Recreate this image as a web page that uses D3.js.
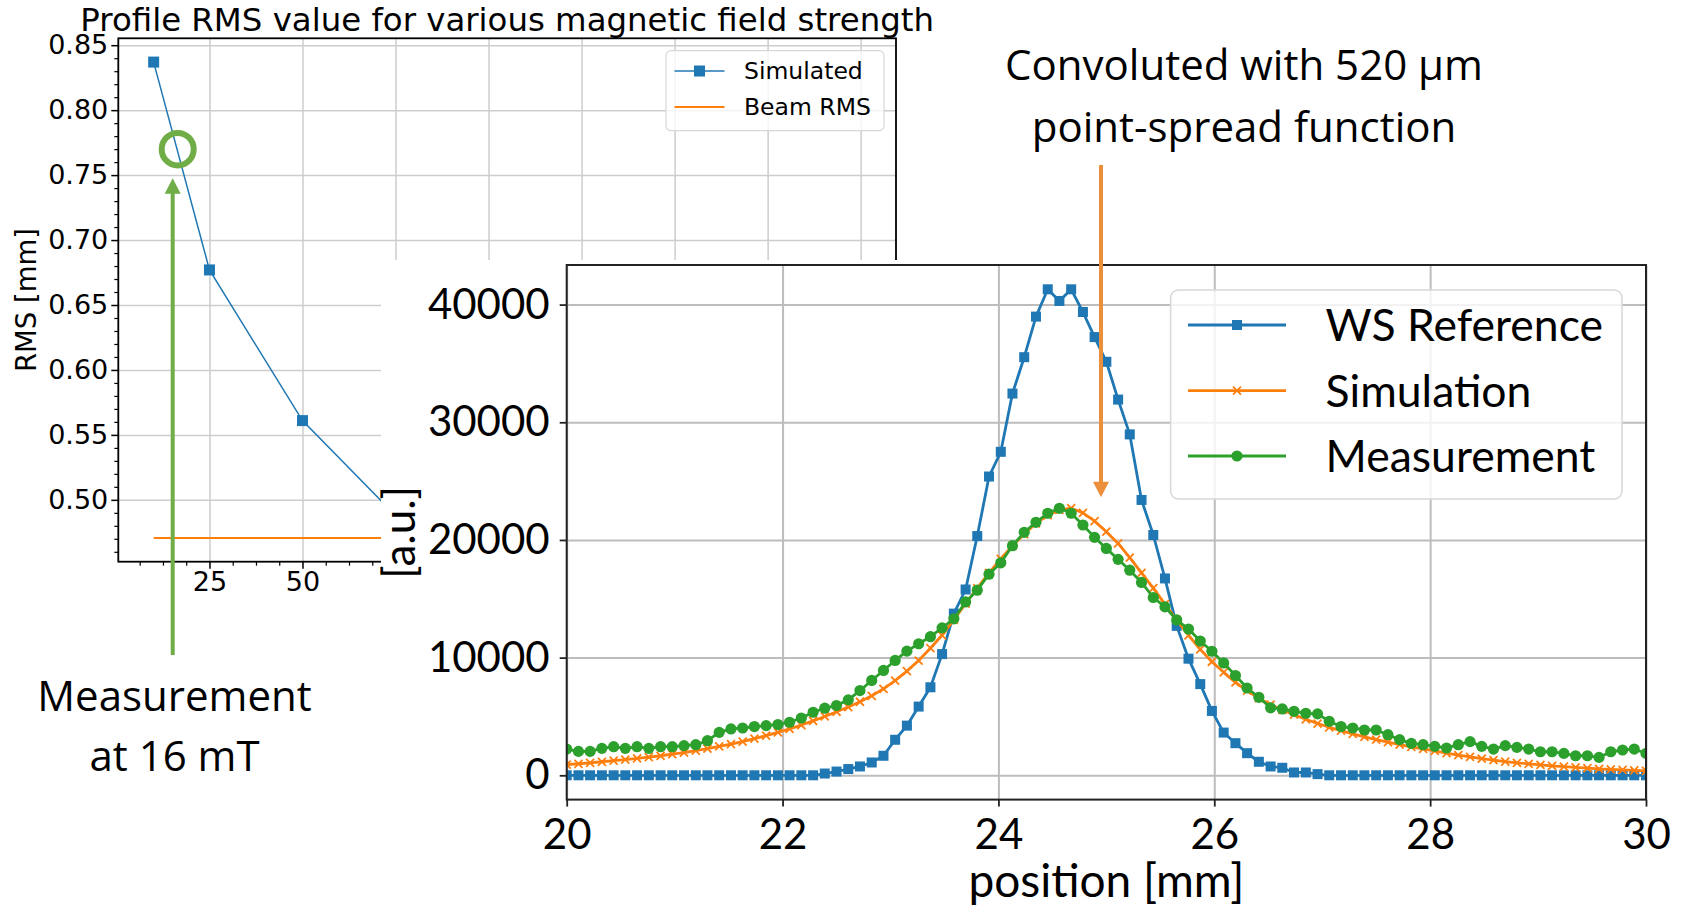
<!DOCTYPE html>
<html>
<head>
<meta charset="utf-8">
<script src="https://cdn.jsdelivr.net/npm/d3@7"></script>
<style>
  body { margin: 0; background: #fff; }
  svg { display: block; }
</style>
</head>
<body>
<svg id="chart" width="1683" height="906"></svg>
<script>
// ---- inset: profile RMS vs magnetic field ----
const fieldStrength = [10, 25, 50, 75, 100, 150, 200];
const rmsSimulated = [0.837, 0.677, 0.561, 0.488, 0.478, 0.473, 0.472];
const beamRms = 0.4707;
const leftXTicks = [25, 50, 75, 100, 125, 150, 175, 200];
const leftYTicks = [0.50, 0.55, 0.60, 0.65, 0.70, 0.75, 0.80, 0.85];

// ---- main plot: beam profiles ----
const position = [
  20.000, 20.109, 20.217, 20.326, 20.435, 20.543, 20.652, 20.761, 20.870, 20.978,
  21.087, 21.196, 21.304, 21.413, 21.522, 21.630, 21.739, 21.848, 21.957, 22.065,
  22.174, 22.283, 22.391, 22.500, 22.609, 22.717, 22.826, 22.935, 23.043, 23.152,
  23.261, 23.370, 23.478, 23.587, 23.696, 23.804, 23.913, 24.022, 24.130, 24.239,
  24.348, 24.457, 24.565, 24.674, 24.783, 24.891, 25.000, 25.109, 25.217, 25.326,
  25.435, 25.543, 25.652, 25.761, 25.870, 25.978, 26.087, 26.196, 26.304, 26.413,
  26.522, 26.630, 26.739, 26.848, 26.957, 27.065, 27.174, 27.283, 27.391, 27.500,
  27.609, 27.717, 27.826, 27.935, 28.043, 28.152, 28.261, 28.370, 28.478, 28.587,
  28.696, 28.804, 28.913, 29.022, 29.130, 29.239, 29.348, 29.457, 29.565, 29.674,
  29.783, 29.891, 30.000
];
const wsReference = [
  0, 0, 0, 0, 0, 0, 0, 0, 0, 0,
  0, 0, 0, 0, 0, 0, 0, 0, 0, 0,
  0, 0, 150, 320, 530, 750, 1090, 1660, 3020, 4220,
  5840, 7480, 10300, 13740, 15790, 20330, 25390, 27490, 32440, 35530,
  38980, 41300, 40310, 41300, 39370, 37240, 35140, 31930, 28970, 23400,
  20420, 16730, 12700, 9910, 7750, 5470, 3630, 2730, 1880, 1150,
  750, 640, 240, 240, 100, 0, 0, 0, 0, 0,
  0, 0, 0, 0, 0, 0, 0, 0, 0, 0,
  0, 0, 0, 0, 0, 0, 0, 0, 0, 0,
  0, 0, 0
];
const simulation = [
  900, 980, 1060, 1150, 1240, 1340, 1440, 1550, 1660, 1790,
  1930, 2090, 2260, 2450, 2650, 2870, 3110, 3370, 3650, 3950,
  4270, 4620, 5000, 5400, 5800, 6250, 6750, 7350, 8050, 8850,
  9750, 10800, 11900, 13200, 14600, 15900, 17200, 18400, 19500, 20500,
  21400, 22100, 22550, 22700, 22300, 21600, 20700, 19700, 18500, 17200,
  15900, 14550, 13200, 11900, 10700, 9650, 8750, 7900, 7200, 6550,
  6000, 5560, 5150, 4760, 4400, 4080, 3790, 3520, 3270, 3030,
  2810, 2600, 2410, 2240, 2080, 1890, 1720, 1560, 1420, 1290,
  1170, 1060, 970, 880, 800, 730, 670, 610, 550, 500,
  460, 420, 380
];
const measurement = [
  2230, 2030, 2030, 2290, 2430, 2290, 2430, 2290, 2430, 2430,
  2520, 2600, 2940, 3650, 3940, 4020, 4140, 4220, 4310, 4510,
  4870, 5360, 5700, 5930, 6410, 7200, 8060, 8910, 9760, 10550,
  11180, 11780, 12530, 13300, 14730, 15730, 17090, 18060, 19510, 20650,
  21500, 22270, 22690, 22270, 21270, 20220, 19280, 18350, 17430, 16390,
  15110, 14310, 13200, 12430, 11410, 10540, 9550, 8480, 7420, 6630,
  5730, 5640, 5440, 5270, 5220, 4590, 4140, 4020, 3850, 3850,
  3450, 3030, 2710, 2600, 2460, 2320, 2600, 2860, 2460, 2230,
  2520, 2370, 2230, 2000, 2000, 1860, 1660, 1660, 1520, 2000,
  2150, 2230, 1860
];
const posTicks = [20, 22, 24, 26, 28, 30];
const auTicks = [0, 10000, 20000, 30000, 40000];

const blue = '#1f77b4', orange = '#ff7f0e', green = '#2ca02c';
const annGreen = '#70ad47', annOrange = '#eb8f3a';

const svg = d3.select('#chart');
const padded = (lo, hi) => { const p = (hi - lo) * 0.05; return [lo - p, hi + p]; };

// =================== inset chart ===================
const L = { x0: 118.3, x1: 896, y0: 38.3, y1: 561.7 };
const xL = d3.scaleLinear()
  .domain(padded(d3.min(fieldStrength), d3.max(fieldStrength)))
  .range([L.x0, L.x1]);
const yL = d3.scaleLinear()
  .domain(padded(Math.min(beamRms, d3.min(rmsSimulated)), d3.max(rmsSimulated)))
  .range([L.y1, L.y0]);

const gL = svg.append('g');

// grid
gL.append('g').attr('transform', `translate(0,${L.y1})`)
  .call(d3.axisBottom(xL).tickValues(leftXTicks).tickSize(-(L.y1 - L.y0)).tickFormat(''))
  .call(g => g.select('.domain').remove())
  .selectAll('line').attr('stroke', '#cdcdcd').attr('stroke-width', 1.5);
gL.append('g').attr('transform', `translate(${L.x0},0)`)
  .call(d3.axisLeft(yL).tickValues(leftYTicks).tickSize(-(L.x1 - L.x0)).tickFormat(''))
  .call(g => g.select('.domain').remove())
  .selectAll('line').attr('stroke', '#cdcdcd').attr('stroke-width', 1.5);

svg.append('clipPath').attr('id', 'clipL').append('rect')
  .attr('x', L.x0).attr('y', L.y0).attr('width', L.x1 - L.x0).attr('height', L.y1 - L.y0);
const plotL = gL.append('g').attr('clip-path', 'url(#clipL)');

plotL.append('line')
  .attr('x1', xL(d3.min(fieldStrength))).attr('x2', xL(d3.max(fieldStrength)))
  .attr('y1', yL(beamRms)).attr('y2', yL(beamRms))
  .attr('stroke', orange).attr('stroke-width', 2);

const rmsPairs = fieldStrength.map((f, i) => [f, rmsSimulated[i]]);
plotL.append('path').datum(rmsPairs)
  .attr('fill', 'none').attr('stroke', blue).attr('stroke-width', 1.5)
  .attr('d', d3.line().x(d => xL(d[0])).y(d => yL(d[1])));
plotL.selectAll('rect.m').data(rmsPairs).enter().append('rect')
  .attr('x', d => xL(d[0]) - 5.5).attr('y', d => yL(d[1]) - 5.5)
  .attr('width', 11).attr('height', 11).attr('fill', blue);

// axes
const minorX = d3.range(6.25, 208, 6.25).filter(v => v % 25 !== 0);
const minorY = d3.range(46, 86).map(v => v / 100).filter(v => Math.round(v * 100) % 5 !== 0);

gL.append('g').attr('transform', `translate(0,${L.y1})`)
  .call(d3.axisBottom(xL).tickValues(minorX).tickSize(4).tickFormat(''))
  .call(g => g.select('.domain').remove())
  .selectAll('line').attr('stroke', '#000').attr('stroke-width', 1.2);
gL.append('g').attr('transform', `translate(${L.x0},0)`)
  .call(d3.axisLeft(yL).tickValues(minorY).tickSize(4).tickFormat(''))
  .call(g => g.select('.domain').remove())
  .selectAll('line').attr('stroke', '#000').attr('stroke-width', 1.2);

const axLX = gL.append('g').attr('transform', `translate(0,${L.y1})`)
  .call(d3.axisBottom(xL).tickValues(leftXTicks).tickSize(7).tickPadding(3).tickFormat(d3.format('d')))
  .call(g => g.select('.domain').remove());
const axLY = gL.append('g').attr('transform', `translate(${L.x0},0)`)
  .call(d3.axisLeft(yL).tickValues(leftYTicks).tickSize(7).tickPadding(3).tickFormat(d3.format('.2f')))
  .call(g => g.select('.domain').remove());
[axLX, axLY].forEach(a => {
  a.attr('font-family', 'DejaVu Sans').attr('font-size', 27);
  a.selectAll('line').attr('stroke', '#000').attr('stroke-width', 1.5);
  a.selectAll('text').attr('fill', '#000');
});

gL.append('rect')
  .attr('x', L.x0).attr('y', L.y0).attr('width', L.x1 - L.x0).attr('height', L.y1 - L.y0)
  .attr('fill', 'none').attr('stroke', '#000').attr('stroke-width', 1.8);

gL.append('text')
  .attr('x', (L.x0 + L.x1) / 2).attr('y', 31)
  .attr('text-anchor', 'middle')
  .attr('font-family', 'DejaVu Sans').attr('font-size', 32.4)
  .text('Profile RMS value for various magnetic field strength');

gL.append('text')
  .attr('transform', `translate(36,${(L.y0 + L.y1) / 2}) rotate(-90)`)
  .attr('text-anchor', 'middle')
  .attr('font-family', 'DejaVu Sans').attr('font-size', 27.5)
  .text('RMS [mm]');

// inset legend
const legL = gL.append('g').attr('font-family', 'DejaVu Sans').attr('font-size', 23.5);
legL.append('rect').attr('x', 666).attr('y', 50.7).attr('width', 218).attr('height', 80)
  .attr('rx', 5).attr('fill', '#fff').attr('fill-opacity', 0.8)
  .attr('stroke', '#d8d8d8').attr('stroke-width', 1.2);
legL.append('line').attr('x1', 674.5).attr('x2', 724.5).attr('y1', 71).attr('y2', 71)
  .attr('stroke', blue).attr('stroke-width', 1.5);
legL.append('rect').attr('x', 699.5 - 5.5).attr('y', 71 - 5.5).attr('width', 11).attr('height', 11).attr('fill', blue);
legL.append('text').attr('x', 744).attr('y', 71).attr('dy', '0.35em').text('Simulated');
legL.append('line').attr('x1', 674.5).attr('x2', 724.5).attr('y1', 107).attr('y2', 107)
  .attr('stroke', orange).attr('stroke-width', 2);
legL.append('text').attr('x', 744).attr('y', 107).attr('dy', '0.35em').text('Beam RMS');

// =================== main chart ===================
svg.append('rect').attr('x', 381).attr('y', 260).attr('width', 1683 - 381).attr('height', 906 - 260)
  .attr('fill', '#fff');

const R = { x0: 566.7, x1: 1646, y0: 265, y1: 799.6 };
const xR = d3.scaleLinear().domain([20, 30]).range([R.x0, R.x1]);
const allVals = wsReference.concat(simulation, measurement);
const yR = d3.scaleLinear().domain(padded(d3.min(allVals), d3.max(allVals))).range([R.y1, R.y0]);

const gR = svg.append('g');
gR.append('g').attr('transform', `translate(0,${R.y1})`)
  .call(d3.axisBottom(xR).tickValues(posTicks).tickSize(-(R.y1 - R.y0)).tickFormat(''))
  .call(g => g.select('.domain').remove())
  .selectAll('line').attr('stroke', '#bdbdbd').attr('stroke-width', 2);
gR.append('g').attr('transform', `translate(${R.x0},0)`)
  .call(d3.axisLeft(yR).tickValues(auTicks).tickSize(-(R.x1 - R.x0)).tickFormat(''))
  .call(g => g.select('.domain').remove())
  .selectAll('line').attr('stroke', '#bdbdbd').attr('stroke-width', 2);

svg.append('clipPath').attr('id', 'clipR').append('rect')
  .attr('x', R.x0).attr('y', R.y0).attr('width', R.x1 - R.x0).attr('height', R.y1 - R.y0);
const plotR = gR.append('g').attr('clip-path', 'url(#clipR)');

const lineR = d3.line().x(d => xR(d[0])).y(d => yR(d[1]));
const series = [
  { name: 'WS Reference', values: wsReference, color: blue, marker: 'square' },
  { name: 'Simulation', values: simulation, color: orange, marker: 'x' },
  { name: 'Measurement', values: measurement, color: green, marker: 'circle' }
];

function drawMarker(sel, marker, color) {
  if (marker === 'square') {
    sel.append('rect').attr('x', -5).attr('y', -5).attr('width', 10).attr('height', 10).attr('fill', color);
  } else if (marker === 'circle') {
    sel.append('circle').attr('r', 5.6).attr('fill', color);
  } else {
    sel.append('path').attr('d', 'M-4,-4L4,4M-4,4L4,-4')
      .attr('stroke', color).attr('stroke-width', 1.8).attr('fill', 'none');
  }
}

series.forEach(s => {
  const pts = position.map((p, i) => [p, s.values[i]]);
  const g = plotR.append('g');
  g.append('path').datum(pts)
    .attr('fill', 'none').attr('stroke', s.color).attr('stroke-width', 2.8)
    .attr('stroke-linejoin', 'round').attr('d', lineR);
  g.selectAll('g.pt').data(pts).enter().append('g')
    .attr('transform', d => `translate(${xR(d[0])},${yR(d[1])})`)
    .each(function () { drawMarker(d3.select(this), s.marker, s.color); });
});

const axRX = gR.append('g').attr('transform', `translate(0,${R.y1})`)
  .call(d3.axisBottom(xR).tickValues(posTicks).tickSize(7).tickPadding(13).tickFormat(d3.format('d')))
  .call(g => g.select('.domain').remove());
const axRY = gR.append('g').attr('transform', `translate(${R.x0},0)`)
  .call(d3.axisLeft(yR).tickValues(auTicks).tickSize(7).tickPadding(10).tickFormat(d3.format('d')))
  .call(g => g.select('.domain').remove());
[axRX, axRY].forEach(a => {
  a.attr('font-family', 'Lato').attr('font-size', 42);
  a.selectAll('line').attr('stroke', '#222').attr('stroke-width', 1.8);
  a.selectAll('text').attr('fill', '#000');
});

gR.append('rect')
  .attr('x', R.x0).attr('y', R.y0).attr('width', R.x1 - R.x0).attr('height', R.y1 - R.y0)
  .attr('fill', 'none').attr('stroke', '#222').attr('stroke-width', 2);

gR.append('text')
  .attr('x', (R.x0 + R.x1) / 2).attr('y', 897)
  .attr('text-anchor', 'middle')
  .attr('font-family', 'Lato').attr('font-size', 46)
  .text('position [mm]');
gR.append('text')
  .attr('transform', `translate(415,${(R.y0 + R.y1) / 2}) rotate(-90)`)
  .attr('text-anchor', 'middle')
  .attr('font-family', 'Lato').attr('font-size', 44)
  .text('[a.u.]');

// main legend
const legR = gR.append('g').attr('font-family', 'Lato').attr('font-size', 44.5);
legR.append('rect').attr('x', 1170.6).attr('y', 290).attr('width', 451.4).attr('height', 209)
  .attr('rx', 8).attr('fill', '#fff').attr('fill-opacity', 0.8)
  .attr('stroke', '#d8d8d8').attr('stroke-width', 1.5);
const legRows = [325, 390.7, 456];
series.forEach((s, i) => {
  const row = legR.append('g').attr('transform', `translate(0,${legRows[i]})`);
  row.append('line').attr('x1', 1188).attr('x2', 1286).attr('stroke', s.color).attr('stroke-width', 2.8);
  drawMarker(row.append('g').attr('transform', 'translate(1237,0)'), s.marker, s.color);
  row.append('text').attr('x', 1325.6).attr('dy', '0.36em').text(s.name);
});

// =================== annotations ===================
const ann = svg.append('g');

function arrow(x, yStart, yTip, color) {
  ann.append('line').attr('x1', x).attr('x2', x).attr('y1', yStart)
    .attr('y2', yTip > yStart ? yTip - 12 : yTip + 12)
    .attr('stroke', color).attr('stroke-width', 4);
  const dir = yTip > yStart ? -1 : 1;
  ann.append('path')
    .attr('d', `M${x},${yTip}L${x - 8},${yTip + dir * 15.5}L${x + 8},${yTip + dir * 15.5}Z`)
    .attr('fill', color);
}

ann.append('ellipse').attr('cx', 177.7).attr('cy', 149.2).attr('rx', 16).attr('ry', 16.3)
  .attr('fill', 'none').attr('stroke', annGreen).attr('stroke-width', 6);
arrow(172.7, 655, 178.3, annGreen);
arrow(1101, 165, 497.3, annOrange);

const annText = ann.append('g').attr('font-family', 'Open Sans').attr('font-size', 42)
  .attr('text-anchor', 'middle').attr('fill', '#000');
annText.append('text').attr('x', 174.5).attr('y', 710.7).text('Measurement');
annText.append('text').attr('x', 174.5).attr('y', 770.7).text('at 16 mT');
annText.append('text').attr('x', 1244).attr('y', 80).text('Convoluted with 520 µm');
annText.append('text').attr('x', 1244).attr('y', 141.7).text('point-spread function');
</script>
</body>
</html>
